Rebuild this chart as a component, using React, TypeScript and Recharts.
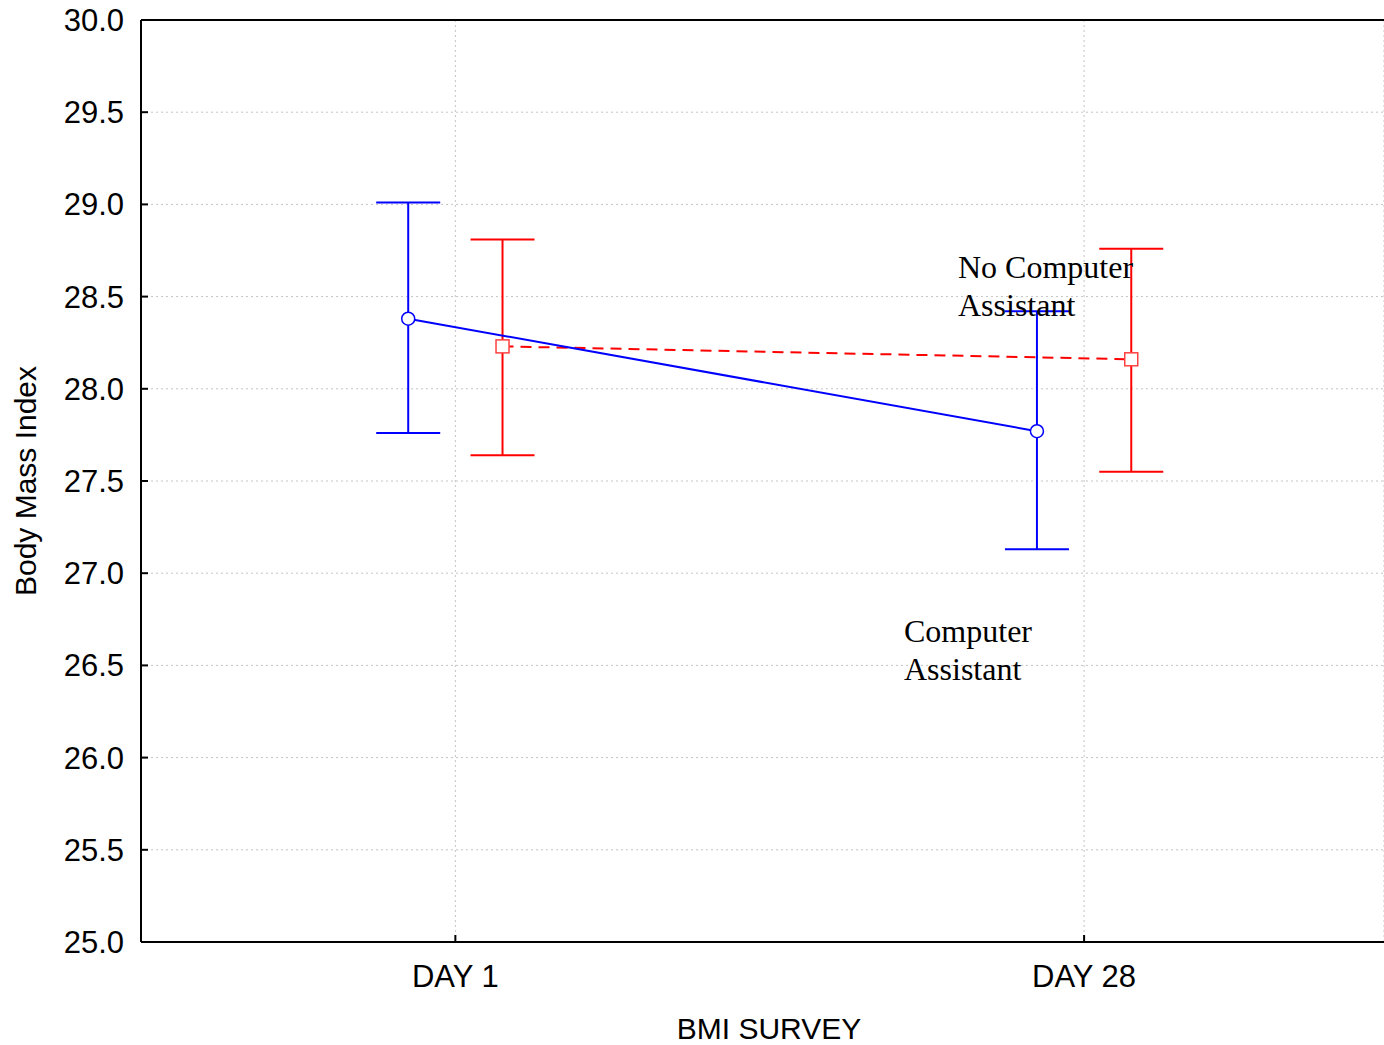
import {
  CartesianGrid,
  ErrorBar,
  Line,
  LineChart,
  ReferenceLine,
  XAxis,
  YAxis,
} from 'recharts'

const dayLabels = ['DAY 1', 'DAY 28']
const dayPositions = [1, 2]
const yTicks = [25, 25.5, 26, 26.5, 27, 27.5, 28, 28.5, 29, 29.5, 30]

// Computer Assistant (blue)
const assistMean = [28.38, 27.77]
const assistLower = [27.76, 27.13]
const assistUpper = [29.01, 28.42]

// No Computer Assistant (red)
const noAssistMean = [28.23, 28.16]
const noAssistLower = [27.64, 27.55]
const noAssistUpper = [28.81, 28.76]

const groupOffset = 0.075

function buildSeries(mean: number[], lower: number[], upper: number[], offset: number) {
  return mean.map((m, i) => ({
    x: dayPositions[i] + offset,
    mean: m,
    err: [+(m - lower[i]).toFixed(3), +(upper[i] - m).toFixed(3)],
  }))
}

const assistData = buildSeries(assistMean, assistLower, assistUpper, -groupOffset)
const noAssistData = buildSeries(noAssistMean, noAssistLower, noAssistUpper, groupOffset)

const sansFont = '"Liberation Sans", Arial, sans-serif'
const serifFont = '"Liberation Serif", "Times New Roman", serif'

function CircleDot(props: any) {
  const { cx, cy } = props
  if (cx == null || cy == null) return null
  return <circle cx={cx} cy={cy} r={6.5} fill="#fff" stroke="#0000ff" strokeWidth={1.5} />
}

function SquareDot(props: any) {
  const { cx, cy } = props
  if (cx == null || cy == null) return null
  return <rect x={cx - 6.5} y={cy - 6.5} width={13} height={13} fill="#fff" stroke="#ff4040" strokeWidth={1.5} />
}

export default function App() {
  return (
    <div style={{ position: 'absolute', left: 0, top: 0, width: 1384, height: 1045 }}>
      <LineChart width={1384} height={1045} margin={{ top: 20, right: 0, left: 0, bottom: 0 }}>
        <CartesianGrid stroke="#c4c4c4" strokeDasharray="2 3" />
        <XAxis
          type="number"
          dataKey="x"
          domain={[0.5, 2.477]}
          ticks={dayPositions}
          tickFormatter={(v: number) => dayLabels[dayPositions.indexOf(v)] ?? ''}
          height={103}
          tickSize={-7}
          tickMargin={30}
          axisLine={{ stroke: '#000', strokeWidth: 2 }}
          tickLine={{ stroke: '#000', strokeWidth: 2 }}
          tick={{ fill: '#000', fontSize: 31, fontFamily: sansFont }}
          allowDataOverflow
        />
        <YAxis
          type="number"
          domain={[25, 30]}
          ticks={yTicks}
          tickFormatter={(v: number) => v.toFixed(1)}
          width={141}
          tickSize={-7}
          tickMargin={24}
          axisLine={{ stroke: '#000', strokeWidth: 2 }}
          tickLine={{ stroke: '#000', strokeWidth: 2 }}
          tick={{ fill: '#000', fontSize: 31, fontFamily: sansFont }}
          interval={0}
        />
        <ReferenceLine y={30} stroke="#000" strokeWidth={2} />
        <Line
          data={noAssistData}
          dataKey="mean"
          stroke="#ff0000"
          strokeWidth={2}
          strokeDasharray="11 7"
          dot={<SquareDot />}
          activeDot={false}
          isAnimationActive={false}
        >
          <ErrorBar dataKey="err" direction="y" width={32} stroke="#ff0000" strokeWidth={2} />
        </Line>
        <Line
          data={assistData}
          dataKey="mean"
          stroke="#0000ff"
          strokeWidth={2}
          dot={<CircleDot />}
          activeDot={false}
          isAnimationActive={false}
        >
          <ErrorBar dataKey="err" direction="y" width={32} stroke="#0000ff" strokeWidth={2} />
        </Line>
      </LineChart>
      <svg
        width={1384}
        height={1045}
        style={{ position: 'absolute', left: 0, top: 0, pointerEvents: 'none' }}
      >
        <text x={958} y={278} fontFamily={serifFont} fontSize={32} fill="#000">No Computer</text>
        <text x={958} y={316} fontFamily={serifFont} fontSize={32} fill="#000">Assistant</text>
        <text x={904} y={642} fontFamily={serifFont} fontSize={32} fill="#000">Computer</text>
        <text x={904} y={680} fontFamily={serifFont} fontSize={32} fill="#000">Assistant</text>
        <text x={769} y={1039} textAnchor="middle" fontFamily={sansFont} fontSize={30} fill="#000">BMI SURVEY</text>
        <text
          x={36}
          y={481}
          textAnchor="middle"
          transform="rotate(-90 36 481)"
          fontFamily={sansFont}
          fontSize={30}
          fill="#000"
        >
          Body Mass Index
        </text>
      </svg>
    </div>
  )
}
